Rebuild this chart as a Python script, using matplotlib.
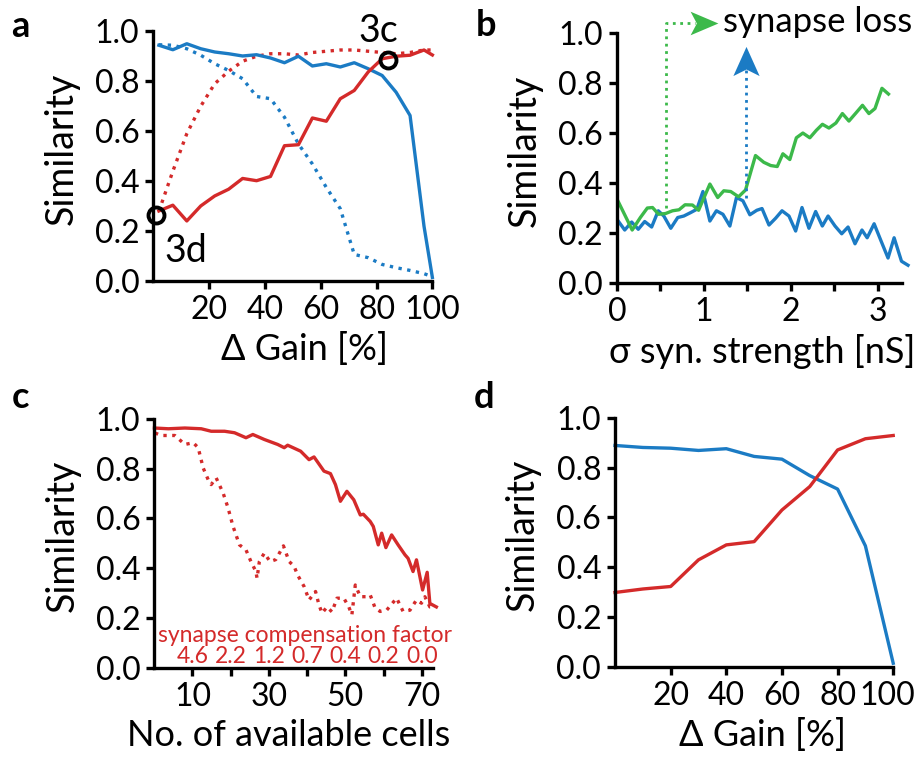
import matplotlib
matplotlib.use("Agg")
import matplotlib.pyplot as plt
from matplotlib.transforms import ScaledTranslation

plt.rcParams['font.family'] = ['Lato', 'DejaVu Sans']

RED = '#d42a2a'
BLUE = '#1b7bc4'
GREEN = '#3cb94a'

# ---- panel a ----
gain_a = [2, 7, 12, 17, 22, 27, 32, 37, 42, 47, 52, 57, 62, 67, 72, 77, 82, 87, 92, 97, 100]
a_blue = [0.944, 0.926, 0.950, 0.930, 0.917, 0.910, 0.901, 0.906, 0.893, 0.874, 0.900,
          0.861, 0.870, 0.857, 0.874, 0.850, 0.823, 0.756, 0.663, 0.22, 0.015]
a_red = [0.281, 0.304, 0.241, 0.301, 0.341, 0.368, 0.411, 0.402, 0.419, 0.542, 0.546,
         0.653, 0.640, 0.730, 0.763, 0.837, 0.890, 0.900, 0.904, 0.925, 0.905]
a_blue_dot = [0.946, 0.944, 0.930, 0.904, 0.870, 0.843, 0.810, 0.739, 0.730, 0.656, 0.549,
              0.469, 0.375, 0.290, 0.107, 0.094, 0.067, 0.054, 0.043, 0.03, 0.018]
a_red_dot = [0.28, 0.44, 0.59, 0.70, 0.79, 0.84, 0.88, 0.90, 0.91, 0.91, 0.905,
             0.915, 0.92, 0.925, 0.925, 0.92, 0.915, 0.91, 0.915, 0.925, 0.925]
marks_x = [1, 84]
marks_y = [0.264, 0.884]

# ---- panel b ----
sigma_green = [0.015, 0.176, 0.27, 0.35, 0.41, 0.48, 0.56, 0.64, 0.715, 0.784, 0.87, 0.94,
               1.07, 1.16, 1.23, 1.31, 1.40, 1.48, 1.595, 1.69, 1.77, 1.845, 1.91, 1.99,
               2.065, 2.14, 2.22, 2.295, 2.365, 2.44, 2.52, 2.595, 2.67, 2.75, 2.826, 2.90,
               2.97, 3.05, 3.125]
b_green = [0.326, 0.212, 0.262, 0.300, 0.302, 0.275, 0.278, 0.289, 0.293, 0.313, 0.312, 0.291,
           0.396, 0.342, 0.369, 0.366, 0.345, 0.372, 0.510, 0.483, 0.470, 0.466, 0.517, 0.494,
           0.581, 0.600, 0.581, 0.611, 0.635, 0.620, 0.640, 0.678, 0.648, 0.680, 0.711, 0.678,
           0.698, 0.779, 0.756]
sigma_blue = [0.015, 0.09, 0.17, 0.246, 0.32, 0.40, 0.476, 0.54, 0.62, 0.70, 0.77, 0.85, 0.92,
              0.99, 1.07, 1.145, 1.22, 1.30, 1.376, 1.45, 1.53, 1.61, 1.67, 1.75, 1.826, 1.90,
              1.98, 2.057, 2.13, 2.21, 2.287, 2.364, 2.43, 2.51, 2.587, 2.66, 2.74, 2.82, 2.88,
              2.96, 3.04, 3.12, 3.19, 3.275, 3.35]
b_blue = [0.248, 0.212, 0.244, 0.215, 0.246, 0.224, 0.289, 0.268, 0.219, 0.262, 0.268, 0.282,
          0.295, 0.366, 0.248, 0.289, 0.275, 0.228, 0.342, 0.329, 0.273, 0.291, 0.298, 0.232,
          0.259, 0.289, 0.268, 0.208, 0.302, 0.219, 0.286, 0.228, 0.268, 0.228, 0.197, 0.224,
          0.157, 0.212, 0.181, 0.237, 0.168, 0.100, 0.181, 0.087, 0.071]
green_arrow_x = [0.56, 0.56, 0.90]
green_arrow_y = [0.30, 1.04, 1.04]
blue_arrow_x = [1.48, 1.48]
blue_arrow_y = [0.34, 0.86]

# ---- panel c ----
cells_solid = [0.05, 3.7, 8, 12.3, 14.9, 18.4, 21, 24, 25.8, 28.8, 32.3, 34, 34.9, 38.3,
               40.5, 41.8, 44.4, 46.1, 47.4, 48.7, 50.4, 52.2, 53.9, 54.7, 56.5, 57.3, 58.6,
               59.5, 60.6, 62.1, 63.8, 65.6, 66.4, 67.7, 68.6, 70.2, 71.4, 72.1, 73.8]
c_solid = [0.963, 0.960, 0.963, 0.960, 0.950, 0.950, 0.944, 0.924, 0.937, 0.917, 0.897, 0.884,
           0.894, 0.870, 0.836, 0.847, 0.790, 0.780, 0.736, 0.669, 0.709, 0.675, 0.614, 0.617,
           0.588, 0.568, 0.494, 0.541, 0.483, 0.534, 0.494, 0.454, 0.440, 0.387, 0.434, 0.313,
           0.384, 0.259, 0.245]
cells_dot = [0.2, 1.9, 5.4, 8, 10.2, 11.5, 12.8, 14.1, 14.9, 16.2, 18, 19.3, 20.6, 22.3, 24,
             25.3, 26.6, 26.9, 27.5, 28.8, 30.3, 31.8, 33.8, 35.3, 36.6, 37.5, 39.2, 40.5,
             42.2, 43.1, 43.9, 45.2, 46.5, 47.8, 49.6, 50.9, 51.7, 52.6, 53.9, 55.6, 56.5,
             57.8, 59.1, 60.8, 63.4, 65.1, 66.9, 68.6, 69.9, 70.8, 72.1, 73.4]
c_dot = [0.943, 0.933, 0.933, 0.897, 0.904, 0.884, 0.803, 0.756, 0.736, 0.763, 0.703, 0.643,
         0.569, 0.494, 0.474, 0.427, 0.387, 0.360, 0.427, 0.461, 0.427, 0.435, 0.490, 0.427,
         0.408, 0.373, 0.327, 0.273, 0.307, 0.253, 0.220, 0.245, 0.225, 0.280, 0.280, 0.245,
         0.213, 0.333, 0.286, 0.286, 0.293, 0.240, 0.227, 0.232, 0.280, 0.227, 0.232, 0.273,
         0.260, 0.286, 0.245, 0.245]
comp_pos = [10, 20, 30, 40, 50, 60, 70]
comp_labels = ['4.6', '2.2', '1.2', '0.7', '0.4', '0.2', '0.0']

# ---- panel d ----
gain_d = [0, 10, 20, 30, 40, 50, 60, 70, 80, 90, 100]
d_blue = [0.889, 0.881, 0.878, 0.869, 0.876, 0.845, 0.834, 0.768, 0.714, 0.486, 0.015]
d_red = [0.299, 0.313, 0.323, 0.430, 0.490, 0.503, 0.630, 0.724, 0.871, 0.916, 0.929]

FS = 23      # tick labels
XL = 26      # x labels
YL = 27      # y labels
LW = 2.4

# notched arrow heads (stealth style)
HEAD_UP = [(0, 1), (-0.9, -1), (0, -0.55), (0.9, -1), (0, 1)]
HEAD_RIGHT = [(1, 0), (-1, 0.85), (-0.55, 0), (-1, -0.85), (1, 0)]


def style_axes(ax, xlab, xlab_pos):
    for s in ['top', 'right']:
        ax.spines[s].set_visible(False)
    for s in ['left', 'bottom']:
        ax.spines[s].set_linewidth(2.4)
    ax.tick_params(width=2.4, length=6, labelsize=FS, pad=4)
    ax.set_ylim(0, 1)
    ax.set_yticks([0, 0.2, 0.4, 0.6, 0.8, 1.0])
    ax.set_yticklabels(['0.0', '0.2', '0.4', '0.6', '0.8', '1.0'])
    ax.set_ylabel('Similarity', fontsize=YL, labelpad=11, y=0.53)
    ax.set_xlabel(xlab, fontsize=XL, x=xlab_pos, labelpad=5)


def shift_last_xlabel(ax, fig, px):
    lab = ax.get_xticklabels()[-1]
    lab.set_transform(lab.get_transform() + ScaledTranslation(px / 100, 0, fig.dpi_scale_trans))


fig = plt.figure(figsize=(9.18, 7.62), dpi=100)

# panel a
ax = fig.add_axes([0.167, 0.631, 0.304, 0.328])
ax.plot(gain_a, a_blue_dot, ':', color=BLUE, lw=LW, clip_on=False)
ax.plot(gain_a, a_red_dot, ':', color=RED, lw=LW, clip_on=False)
ax.plot(gain_a, a_blue, '-', color=BLUE, lw=LW, clip_on=False)
ax.plot(gain_a, a_red, '-', color=RED, lw=LW, clip_on=False)
ax.plot(marks_x, marks_y, 'o', ms=11.5, mfc='none', mec='black', mew=2.8, clip_on=False)
ax.text(4, 0.075, '3d', fontsize=27)
ax.text(80.5, 0.955, '3c', fontsize=27, ha='center')
ax.set_xlim(0, 100)
ax.set_xticks([20, 40, 60, 80, 100])
style_axes(ax, 'Δ Gain [%]', 0.54)

# panel b
ax = fig.add_axes([0.672, 0.6286, 0.3105, 0.328])
ax.plot(sigma_blue, b_blue, '-', color=BLUE, lw=LW, clip_on=False)
ax.plot(sigma_green, b_green, '-', color=GREEN, lw=LW, clip_on=False)
ax.plot(green_arrow_x, green_arrow_y, ':', color=GREEN, lw=2, clip_on=False)
ax.plot(blue_arrow_x, blue_arrow_y, ':', color=BLUE, lw=2, clip_on=False)
ax.plot([1.0], [1.04], marker=HEAD_RIGHT, ms=20, color=GREEN, mew=0, clip_on=False)
ax.plot([1.48], [0.888], marker=HEAD_UP, ms=21, color=BLUE, mew=0, clip_on=False)
ax.text(1.22, 1.045, 'synapse loss', fontsize=25, va='center')
ax.set_xlim(0, 3.28)
ax.set_xticks([0, 0.5, 1, 1.5, 2, 2.5, 3])
ax.set_xticklabels(['0', '', '1', '', '2', '', '3'])
style_axes(ax, 'σ syn. strength [nS]', 0.51)

# panel c
ax = fig.add_axes([0.168, 0.1234, 0.304, 0.327])
ax.plot(cells_dot, c_dot, ':', color=RED, lw=LW, clip_on=False)
ax.plot(cells_solid, c_solid, '-', color=RED, lw=LW, clip_on=False)
ax.text(39.5, 0.13, 'synapse compensation factor', color=RED, fontsize=16.5,
        ha='center', va='center')
for p, lab in zip(comp_pos, comp_labels):
    ax.text(p, 0.045, lab, color=RED, fontsize=16.5, ha='center', va='center')
ax.set_xlim(0, 73)
ax.set_xticks([10, 20, 30, 40, 50, 60, 70])
ax.set_xticklabels(['10', '', '30', '', '50', '', '70'])
style_axes(ax, 'No. of available cells', 0.48)

# panel d
ax = fig.add_axes([0.670, 0.1247, 0.303, 0.327])
ax.plot(gain_d, d_blue, '-', color=BLUE, lw=LW, clip_on=False)
ax.plot(gain_d, d_red, '-', color=RED, lw=LW, clip_on=False)
ax.set_xlim(0, 100)
ax.set_xticks([20, 40, 60, 80, 100])
style_axes(ax, 'Δ Gain [%]', 0.53)
shift_last_xlabel(ax, fig, -6)

for lab, x, y in [('a', 0.022, 0.965), ('b', 0.529, 0.967), ('c', 0.022, 0.478), ('d', 0.527, 0.478)]:
    fig.text(x, y, lab, fontsize=26, fontweight='bold', ha='center', va='center')

fig.savefig('out.png', dpi=100)
